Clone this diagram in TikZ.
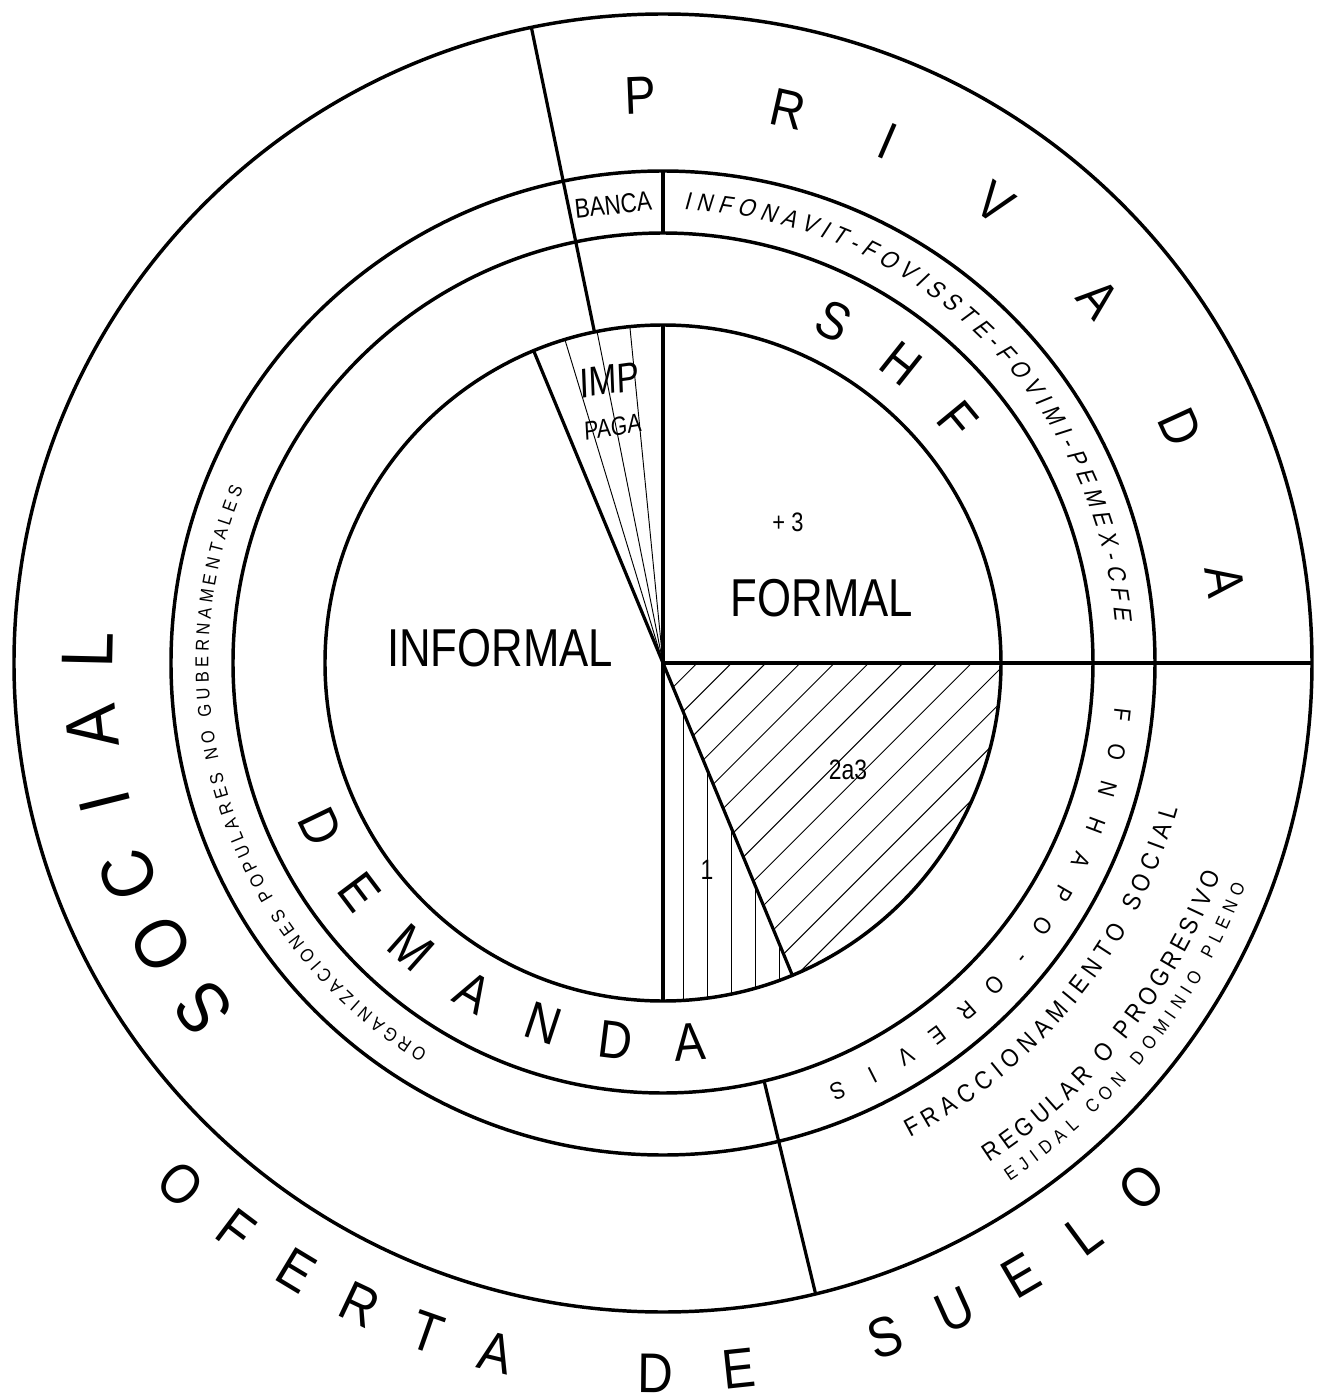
\documentclass[tikz,border=0pt]{standalone}
\usepackage{fontspec}
\setmainfont{Liberation Sans}[FakeStretch=0.82]
\newfontfamily\cadfont{Liberation Sans}[FakeStretch=0.88]
\newfontfamily\cadslfont{Liberation Sans}[FakeStretch=0.88,FakeSlant=0.22]
\newfontfamily\impfont{Liberation Sans}[FakeStretch=0.82,FakeSlant=0.1]
\usetikzlibrary{decorations.text}
\tikzset{
  circ/.style={line width=2.6pt},
  rad/.style={line width=2.4pt},
  thinln/.style={line width=0.7pt},
  lbl/.style={inner sep=0pt, font=\fontsize{#1}{#1}\selectfont},
  cwl/.style={inner sep=0pt, font=\cadfont\fontsize{#1}{#1}\selectfont},
}
\newcommand\cwletters[3]{\foreach \ang/\lt in {#3} {\node[cwl=#2, rotate=\ang-90] at (\ang:#1) {\lt};}}
\newcommand\ccwletters[3]{\foreach \ang/\lt in {#3} {\node[cwl=#2, rotate=\ang+90] at (\ang:#1) {\lt};}}
\begin{document}
\begin{tikzpicture}[x=0.75pt,y=0.75pt]
\useasboundingbox (-663,-730) rectangle (658,663);
% hatching of sector 2a3
\begin{scope}
  \clip (0,0) -- (0:338) arc[start angle=0,end angle=-67.5,radius=338] -- cycle;
  \foreach \k in {1,...,14} \draw[thinln] (\k*34.3-400,-400) -- (\k*34.3+400,400);
\end{scope}
% vertical lines of sector 1
\begin{scope}
  \clip (0,0) -- (-90:338) arc[start angle=-90,end angle=-67.5,radius=338] -- cycle;
  \foreach \xx in {20,44.2,68.4,92.6,116.8} \draw[thinln] (\xx,0) -- (\xx,-400);
\end{scope}
% fan lines of sector IMP
\foreach \ang in {95.625,101.25,106.875} \draw[thinln] (0,0) -- (\ang:338);
% circles
\draw[circ] (0,0) circle (338);
\draw[circ] (0,0) circle (430);
\draw[circ] (0,0) circle (492);
\draw[circ] (0,0) circle (649);
% radial lines
\draw[rad] (0,0) -- (90:338);
\draw[rad] (0,0) -- (-90:338);
\draw[rad] (112.5:338) -- (-67.5:338);
\draw[rad] (0,0) -- (0:649);
\draw[rad] (101.7:338) -- (101.7:649);
\draw[rad] (90:430) -- (90:492);
\draw[rad] (-76.4:430) -- (-76.4:649);
% core labels
\node[lbl=40] (informal) at (-163,15) {INFORMAL};
\node[lbl=40] (formal) at (159,65) {FORMAL};
\node[lbl=20] (mas3) at (125,141) {+ 3};
\node[lbl=21] (dosatres) at (185,-107) {2a3};
\node[lbl=21] (uno) at (44,-207) {1};
\node[inner sep=0pt, font=\impfont\fontsize{31}{31}\selectfont, rotate=8] (imp) at (-55,283) {IMP};
\node[inner sep=0pt, font=\impfont\fontsize{19.5}{19.5}\selectfont, rotate=9] (paga) at (-51,236) {PAGA};
\node[lbl=20.5, rotate=6.2] (banca) at (96.2:461) {BANCA};
% big lettered arcs
\ccwletters{380}{40}{205.6/D,217.0/E,228.5/M,240.0/A,251.7/N,262.9/D,274.1/A}
\cwletters{382}{40}{63.4/S,51.5/H,39.5/F}
\cwletters{568}{40}{92.3/P,77.3/R,66.7/I,54.2/V,39.9/A,24.5/D,8.3/A}
\cwletters{575}{55}{216.9/S,209.3/O,201.6/C,194.0/I,186.4/A,178.7/L}
\ccwletters{710}{42}{227.2/O,233.0/F,238.9/E,244.7/R,250.6/T,256.4/A,269.4/D,276.1/E,288.2/S,294.3/U,300.3/E,306.4/L,312.4/O}
\cwletters{462}{18}{-6.4/F,-11.12/O,-15.84/N,-20.56/H,-25.28/A,-30.0/P,-34.72/O,-39.44/-,-44.16/O,-48.88/R,-53.6/E,-58.32/V,-63.04/I,-67.76/S}
% small texts along arcs
\path[decorate, decoration={text along path, text align={fit to path},
  text={|\cadslfont\fontsize{18.5}{18.5}\selectfont|INFONAVIT-FOVISSTE-FOVIMI-PEMEX-CFE}}]
  (87.4:454) arc[start angle=87.4, end angle=5.4, radius=454];
\path[decorate, decoration={text along path, text align={fit to path},
  text={|\cadfont\fontsize{14}{14}\selectfont|ORGANIZACIONES POPULARES NO GUBERNAMENTALES}}]
  (238.8:454.5) arc[start angle=238.8, end angle=157.5, radius=454.5];
\path[decorate, decoration={text along path, text align={fit to path},
  text={|\cadfont\fontsize{19}{19}\selectfont|FRACCIONAMIENTO SOCIAL}}]
  (-62.5:535) arc[start angle=-62.5, end angle=-15.8, radius=535];
\path[decorate, decoration={text along path, text align={fit to path},
  text={|\cadfont\fontsize{19}{19}\selectfont|REGULAR O PROGRESIVO}}]
  (-56.8:597) arc[start angle=-56.8, end angle=-20.8, radius=597];
\path[decorate, decoration={text along path, text align={fit to path},
  text={|\cadfont\fontsize{14}{14}\selectfont|EJIDAL CON DOMINIO PLENO}}]
  (-56.2:623.5) arc[start angle=-56.2, end angle=-20.9, radius=623.5];
\end{tikzpicture}
\end{document}
